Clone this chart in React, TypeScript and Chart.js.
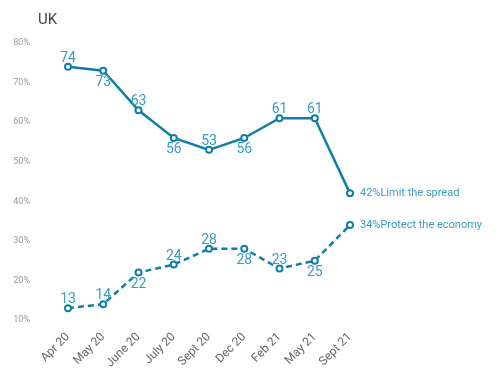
import React, { useEffect, useRef } from "react";
import { Chart, registerables } from "chart.js";

Chart.register(...registerables);

const categories = ["Apr 20", "May 20", "June 20", "July 20", "Sept 20", "Dec 20", "Feb 21", "May 21", "Sept 21"];
const limitSpread = [74, 73, 63, 56, 53, 56, 61, 61, 42];
const protectEconomy = [13, 14, 22, 24, 28, 28, 23, 25, 34];
// label placement: 1 = above, -1 = below, 0 = none
const limitPos = [1, -1, 1, -1, 1, -1, 1, 1, 0];
const protectPos = [1, 1, -1, 1, 1, -1, 1, -1, 0];
const seriesNames = ["Limit the spread", "Protect the economy"];
const yTicks = [10, 20, 30, 40, 50, 60, 70, 80];

const LINE = "#0f7fa8";
const LABEL = "#3a9bc6";

const labelPlugin = {
  id: "labels",
  afterDatasetsDraw(chart: any) {
    const ctx = chart.ctx;
    const positions = [limitPos, protectPos];
    ctx.save();
    chart.data.datasets.forEach((ds: any, di: number) => {
      const meta = chart.getDatasetMeta(di);
      meta.data.forEach((pt: any, i: number) => {
        const pos = positions[di][i];
        ctx.fillStyle = LABEL;
        if (pos !== 0) {
          ctx.font = "14px Roboto";
          ctx.textAlign = "center";
          ctx.textBaseline = "alphabetic";
          if (pos > 0) {
            ctx.fillText(String(ds.data[i]), pt.x, pt.y - 5);
          } else {
            ctx.fillText(String(ds.data[i]), pt.x, pt.y + 15);
          }
        } else {
          ctx.font = "11px Roboto";
          ctx.textAlign = "left";
          ctx.textBaseline = "middle";
          ctx.fillText(ds.data[i] + "%" + seriesNames[di], pt.x + 10, pt.y);
        }
      });
    });
    ctx.fillStyle = "#444";
    ctx.font = "15px Roboto";
    ctx.textAlign = "left";
    ctx.textBaseline = "middle";
    ctx.fillText("UK", 38, 20);
    ctx.restore();
  },
};

export default function App() {
  const ref = useRef<HTMLCanvasElement | null>(null);
  useEffect(() => {
    if (!ref.current) return;
    const chart = new Chart(ref.current, {
      type: "line",
      data: {
        labels: categories,
        datasets: [
          {
            label: seriesNames[0],
            data: limitSpread,
            borderColor: LINE,
            borderWidth: 2.5,
            pointRadius: 3,
            pointBorderWidth: 2,
            pointBackgroundColor: "#fff",
            pointBorderColor: LINE,
            tension: 0,
          },
          {
            label: seriesNames[1],
            data: protectEconomy,
            borderColor: LINE,
            borderWidth: 2.5,
            borderDash: [6, 4],
            pointRadius: 3,
            pointBorderWidth: 2,
            pointBackgroundColor: "#fff",
            pointBorderColor: LINE,
            tension: 0,
          },
        ],
      },
      options: {
        animation: false,
        responsive: false,
        layout: { padding: { left: 8, right: 150, top: 43, bottom: 0 } },
        plugins: { legend: { display: false }, tooltip: { enabled: false }, title: { display: false } },
        scales: {
          x: {
            grid: { display: false },
            border: { display: false },
            ticks: {
              color: "#666",
              font: { family: "Roboto", size: 12 },
              minRotation: 45,
              maxRotation: 45,
              padding: 2,
            },
            afterFit: (s: any) => {
              s.height = 59;
            },
          },
          y: {
            min: 10,
            max: 80,
            grid: { display: false },
            border: { display: false },
            afterBuildTicks: (s: any) => {
              s.ticks = yTicks.map((v) => ({ value: v }));
            },
            ticks: {
              color: "#999",
              font: { family: "Roboto", size: 9 },
              padding: 30,
              callback: (v: any) => v + "%",
            },
            afterFit: (s: any) => {
              s.width = 60;
            },
          },
        },
      },
      plugins: [labelPlugin],
    });
    return () => chart.destroy();
  }, []);
  return (
    <div style={{ position: "absolute", left: 0, top: 0, width: 500, height: 379, background: "#fff" }}>
      <canvas ref={ref} width={500} height={379} style={{ width: 500, height: 379 }} />
    </div>
  );
}
